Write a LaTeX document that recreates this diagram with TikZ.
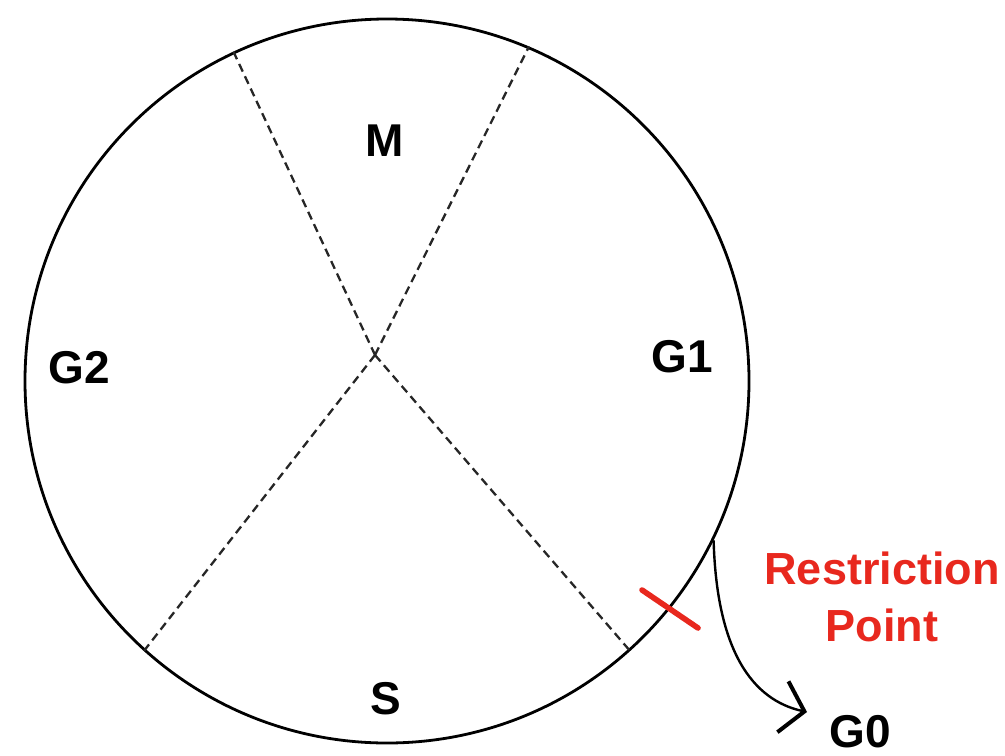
\documentclass[tikz,border=0pt]{standalone}
\usepackage{fontspec}
\setmainfont{Liberation Sans}
\usetikzlibrary{arrows.meta}
\definecolor{rpred}{HTML}{E8281E}

\begin{document}
\begin{tikzpicture}[
    x=0.5pt, y=-0.5pt,
    every node/.style={font=\fontsize{23}{27}\selectfont\bfseries},
    cellring/.style={draw=black, line width=1.4pt, circle,
        minimum size=362pt, inner sep=0pt},
    divider/.style={draw=black!85, line width=1.15pt,
        dash pattern=on 4.2pt off 2.6pt},
    rptick/.style={draw=rpred, line width=2.8pt, line cap=round},
    rplbl/.style={text=rpred, align=center,
        font=\fontsize{22.5}{28.5}\selectfont\bfseries},
    exitarr/.style={-{Straight Barb[length=11pt, width=26pt, line width=2pt]},
        line width=1.2pt, draw=black},
  ]
  \useasboundingbox (0,0) rectangle (1005,755);

  %% --- Cell cycle ring ------------------------------------------------
  \node[cellring] (cell) at (387,381) {};
  \coordinate (hub) at (375,355);

  %% --- Phase dividers (dashed) ----------------------------------------
  \draw[divider] (hub) -- (cell.115);
  \draw[divider] (hub) -- (cell.67);
  \draw[divider] (hub) -- (cell.228);
  \draw[divider] (hub) -- (cell.312);

  %% --- Phase labels ---------------------------------------------------
  \node (m)  at (385,141) {M};
  \node (g2) at (79,368)  {G2};
  \node (g1) at (682,357) {G1};
  \node (s)  at (386,699) {S};

  %% --- Restriction point and exit to G0 -------------------------------
  \draw[rptick] (642,590) -- (698,628);
  \node[rplbl] (rp) at (882,597) {Restriction\\Point};
  \node (g0) at (860,732) {G0};
  \coordinate (g0in) at (807,712);
  \draw[exitarr] (cell.334.6) .. controls +(3,110) and +(-55,-12) .. (g0in);

\end{tikzpicture}
\end{document}
